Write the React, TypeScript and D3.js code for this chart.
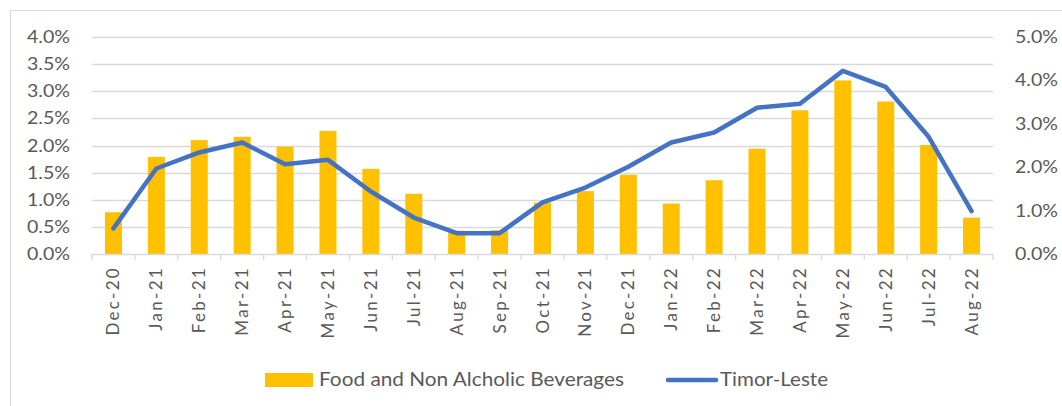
import { useRef, useEffect } from "react";
import * as d3 from "d3";

const months = [
  "Dec-20", "Jan-21", "Feb-21", "Mar-21", "Apr-21", "May-21", "Jun-21", "Jul-21",
  "Aug-21", "Sep-21", "Oct-21", "Nov-21", "Dec-21", "Jan-22", "Feb-22", "Mar-22",
  "Apr-22", "May-22", "Jun-22", "Jul-22", "Aug-22",
];

// Food and Non Alcholic Beverages (left axis, %)
const foodValues = [
  0.77, 1.79, 2.1, 2.16, 1.98, 2.27, 1.57, 1.11, 0.43, 0.44, 0.95, 1.16, 1.46, 0.93,
  1.36, 1.94, 2.65, 3.2, 2.81, 2.01, 0.67,
];

// Timor-Leste (right axis, %)
const timorValues = [
  0.59, 1.97, 2.34, 2.57, 2.07, 2.17, 1.44, 0.84, 0.48, 0.48, 1.19, 1.53, 2.01, 2.57,
  2.8, 3.37, 3.46, 4.22, 3.85, 2.7, 0.99,
];

const leftTicks = [0, 0.5, 1, 1.5, 2, 2.5, 3, 3.5, 4];
const rightTicks = [0, 1, 2, 3, 4, 5];

const FONT = "Lato, 'Open Sans', sans-serif";
const TEXT = "#595959";
const GRID = "#d9d9d9";

export default function App() {
  const svgRef = useRef<SVGSVGElement>(null);

  useEffect(() => {
    const svg = d3.select(svgRef.current);
    svg.selectAll("*").remove();

    const width = 1062;
    const height = 406;
    const margin = { top: 37, right: 69, bottom: 152, left: 92 };
    const bottomY = height - margin.bottom;

    // chart frame
    svg.append("rect")
      .attr("x", 10.5).attr("y", 10.5)
      .attr("width", width).attr("height", height)
      .attr("fill", "#fff").attr("stroke", GRID);

    const band = d3.scaleBand().domain(months).range([margin.left, width - margin.right]);

    const yLeft = d3.scaleLinear().domain([0, 4]).range([bottomY, margin.top]);
    const yRight = d3.scaleLinear().domain([0, 5]).range([bottomY, margin.top]);

    // gridlines
    svg.append("g")
      .selectAll("line")
      .data(leftTicks.slice(1))
      .join("line")
      .attr("x1", margin.left).attr("x2", width - margin.right)
      .attr("y1", d => Math.round(yLeft(d)) + 0.5).attr("y2", d => Math.round(yLeft(d)) + 0.5)
      .attr("stroke", GRID).attr("stroke-width", 1.3);

    // bars
    svg.append("g")
      .selectAll("rect")
      .data(foodValues)
      .join("rect")
      .attr("x", (d, i) => band(months[i])! + band.bandwidth() / 2 - 8.5)
      .attr("width", 17)
      .attr("y", d => yLeft(d))
      .attr("height", d => bottomY - yLeft(d))
      .attr("fill", "#ffc000");

    // x axis line + ticks
    const ax = svg.append("g");
    ax.append("line")
      .attr("x1", margin.left).attr("x2", width - margin.right)
      .attr("y1", bottomY + 0.5).attr("y2", bottomY + 0.5)
      .attr("stroke", GRID).attr("stroke-width", 1.3);
    const tickPos = months.map(m => band(m)!).concat([width - margin.right]);
    ax.selectAll("line.tick")
      .data(tickPos)
      .join("line")
      .attr("class", "tick")
      .attr("x1", d => d).attr("x2", d => d)
      .attr("y1", bottomY).attr("y2", bottomY + 6)
      .attr("stroke", GRID).attr("stroke-width", 1.3);

    // x labels
    ax.selectAll("text")
      .data(months)
      .join("text")
      .attr("transform", d => `translate(${band(d)! + band.bandwidth() / 2 + 6},${bottomY + 12}) rotate(-90)`)
      .attr("text-anchor", "end")
      .attr("fill", TEXT)
      .style("font-family", FONT)
      .style("font-size", "17px")
      .style("letter-spacing", "2.3px")
      .text(d => d);

    // left axis labels
    svg.append("g")
      .selectAll("text")
      .data(leftTicks)
      .join("text")
      .attr("x", 27).attr("y", d => yLeft(d) + 6)
      .attr("textLength", 43)
      .attr("lengthAdjust", "spacingAndGlyphs")
      .attr("fill", TEXT)
      .style("font-family", FONT)
      .style("font-size", "17.5px")
      .text(d => d3.format(".1f")(d) + "%");

    // right axis labels
    svg.append("g")
      .selectAll("text")
      .data(rightTicks)
      .join("text")
      .attr("x", 1015).attr("y", d => yRight(d) + 6)
      .attr("textLength", 43)
      .attr("lengthAdjust", "spacingAndGlyphs")
      .attr("fill", TEXT)
      .style("font-family", FONT)
      .style("font-size", "17.5px")
      .text(d => d3.format(".1f")(d) + "%");

    // line
    const line = d3.line<number>()
      .x((d, i) => band(months[i])! + band.bandwidth() / 2)
      .y(d => yRight(d));

    svg.append("path")
      .datum(timorValues)
      .attr("fill", "none")
      .attr("stroke", "#4472c4")
      .attr("stroke-width", 4.5)
      .attr("stroke-linejoin", "round")
      .attr("stroke-linecap", "round")
      .attr("d", line);

    // legend
    const lg = svg.append("g");
    lg.append("rect")
      .attr("x", 265).attr("y", 373).attr("width", 48).attr("height", 14)
      .attr("fill", "#ffc000");
    lg.append("text")
      .attr("x", 319).attr("y", 386)
      .attr("textLength", 305)
      .attr("lengthAdjust", "spacingAndGlyphs")
      .attr("fill", TEXT)
      .style("font-family", FONT)
      .style("font-size", "19px")
      .text("Food and Non Alcholic Beverages");
    lg.append("line")
      .attr("x1", 668).attr("x2", 716).attr("y1", 380).attr("y2", 380)
      .attr("stroke", "#4472c4").attr("stroke-width", 4.5)
      .attr("stroke-linecap", "round");
    lg.append("text")
      .attr("x", 720).attr("y", 386)
      .attr("textLength", 108)
      .attr("lengthAdjust", "spacingAndGlyphs")
      .attr("fill", TEXT)
      .style("font-family", FONT)
      .style("font-size", "19px")
      .text("Timor-Leste");
  }, []);

  return (
    <svg
      ref={svgRef}
      width={1062}
      height={406}
      style={{ position: "fixed", left: 0, top: 0, display: "block" }}
    />
  );
}
